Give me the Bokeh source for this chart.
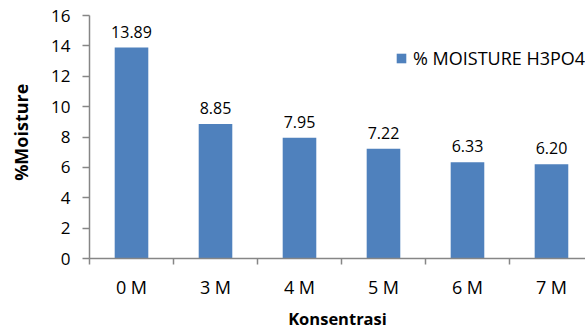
import math

from bokeh.plotting import figure
from bokeh.layouts import row
from bokeh.models import Range1d, FixedTicker, ColumnDataSource, Legend, LegendItem
from bokeh.core.properties import value
from bokeh.embed import file_html
from bokeh.resources import INLINE

# Moisture content after H3PO4 activation at each concentration
categories = ["0 M", "3 M", "4 M", "5 M", "6 M", "7 M"]
moisture = [13.89, 8.85, 7.95, 7.22, 6.33, 6.20]
y_ticks = [0, 2, 4, 6, 8, 10, 12, 14, 16]

FONT = "Open Sans"
BAR = "#4F81BD"
AXIS = "#868686"

TOTAL_W, TOTAL_H = 585, 333
TITLE_W = 40  # narrow strip that holds the vertical axis title

centers = [i + 0.5 for i in range(len(categories))]
src = ColumnDataSource(dict(
    x=centers,
    y=moisture,
    label=[f"{v:.2f}" for v in moisture],
))

# strip with the rotated y-axis title; its ranges are in pixels
side = figure(
    width=TITLE_W, height=TOTAL_H,
    x_range=Range1d(0, TITLE_W), y_range=Range1d(0, TOTAL_H),
    output_backend="svg", toolbar_location=None,
    min_border=0, x_axis_location=None, y_axis_location=None,
)
side.outline_line_color = None
side.grid.visible = False
side.text(x=[20], y=[TOTAL_H - 160], text=["%Moisture"], angle=math.pi / 2,
          text_align="center", text_baseline="middle",
          text_font=value(FONT), text_font_style="bold",
          text_font_size="18px", text_color="#000000")

p = figure(
    width=TOTAL_W - TITLE_W, height=TOTAL_H,
    x_range=Range1d(0, 5.905), y_range=Range1d(0, 16),
    output_backend="svg", toolbar_location=None,
    min_border_left=89 - TITLE_W, min_border_right=0,
    min_border_top=15, min_border_bottom=75,
)
p.outline_line_color = None
p.grid.visible = False
p.background_fill_color = "white"
p.border_fill_color = "white"

bars = p.vbar(x="x", top="y", width=0.4, source=src,
              fill_color=BAR, line_color=None)

p.text(x="x", y="y", text="label", source=src,
       text_align="center", text_baseline="alphabetic", y_offset=-16,
       text_font=value(FONT), text_font_size="16px", text_color="#000000")

# x axis: labels at category centres, ticks at category boundaries
xa = p.xaxis[0]
xa.ticker = FixedTicker(ticks=centers,
                        minor_ticks=list(range(len(categories) + 1)))
xa.major_label_overrides = {c: lab for c, lab in zip(centers, categories)}
xa.major_tick_out = 0
xa.major_tick_in = 0
xa.minor_tick_out = 6
xa.minor_tick_in = 0
xa.minor_tick_line_color = AXIS
xa.minor_tick_line_width = 1.5
xa.axis_line_color = AXIS
xa.axis_line_width = 1.5
xa.major_label_standoff = 10
xa.major_label_text_font = FONT
xa.major_label_text_font_size = "18px"
xa.major_label_text_color = "#000000"
xa.axis_label = "Konsentrasi"
xa.axis_label_text_font = FONT
xa.axis_label_text_font_style = "bold"
xa.axis_label_text_font_size = "16.5px"
xa.axis_label_standoff = 5
xa.axis_label_text_color = "#000000"

ya = p.yaxis[0]
ya.ticker = FixedTicker(ticks=y_ticks)
ya.minor_tick_line_color = None
ya.major_tick_out = 7
ya.major_tick_in = 0
ya.major_tick_line_color = AXIS
ya.major_tick_line_width = 1.5
ya.axis_line_color = AXIS
ya.axis_line_width = 1.5
ya.major_label_standoff = 12
ya.major_label_text_font = FONT
ya.major_label_text_font_size = "17px"
ya.major_label_text_color = "#000000"

legend = Legend(
    items=[LegendItem(label="% MOISTURE H3PO4", renderers=[bars])],
    location=(306, 188),
    padding=0, margin=0, spacing=0,
    glyph_width=12, glyph_height=12, label_height=12,
    label_standoff=6,
    label_text_font=FONT, label_text_font_size="18px",
    label_text_color="#000000", label_text_baseline="middle",
    border_line_color=None, background_fill_alpha=0,
)
p.add_layout(legend)

layout = row(side, p, spacing=0)
open("out.html", "w").write(file_html(layout, INLINE))
